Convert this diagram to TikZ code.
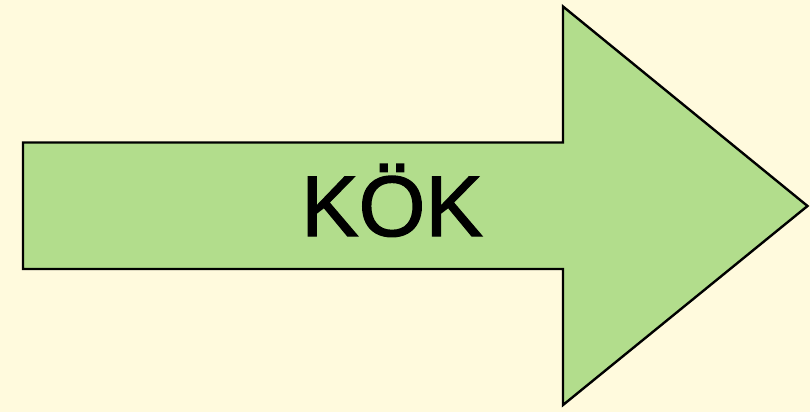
\documentclass[tikz,border=0pt]{standalone}
\usepackage{fontspec}
\setmainfont{Liberation Sans}
\newfontfamily\lblfont[FakeBold=1.5]{Liberation Sans}
\definecolor{bgcream}{RGB}{255,250,221}
\definecolor{arrowgreen}{RGB}{178,221,140}
\begin{document}
\begin{tikzpicture}[x=1pt,y=-1pt,
  arrowshape/.style={fill=arrowgreen,draw=black,line width=2.4pt,line join=miter},
  lbl/.style={font=\lblfont\fontsize{86}{86}\selectfont,text=black,inner sep=0pt}]
\fill[bgcream] (0,0) rectangle (810,412);
\useasboundingbox (0,0) rectangle (810,412);
\draw[arrowshape] (23,142.5) -- (563,142.5) -- (563,6.5) -- (807.5,206) -- (563,405) -- (563,269) -- (23,269) -- cycle;
\node[lbl,anchor=base] (label) at (392,236) {KÖK};
\end{tikzpicture}
\end{document}
